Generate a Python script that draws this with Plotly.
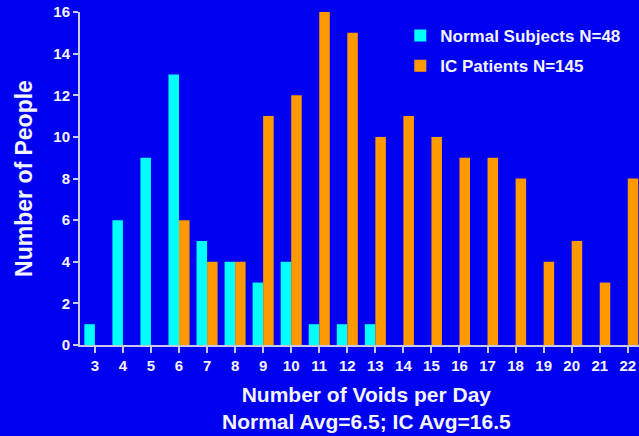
import plotly.graph_objects as go

voids = list(range(3, 23))
normal_counts = [1, 6, 9, 13, 5, 4, 3, 4, 1, 1, 1, 0, 0, 0, 0, 0, 0, 0, 0, 0]
ic_counts = [0, 0, 0, 6, 4, 4, 11, 12, 16, 15, 10, 11, 10, 9, 9, 8, 4, 5, 3, 8]
y_ticks = [0, 2, 4, 6, 8, 10, 12, 14, 16]

BG = "#0000F0"
TEXT = "#F4F4FF"
AXIS = "#C8C8E8"
FONT = "Liberation Sans, Arial, sans-serif"

fig = go.Figure()
fig.add_trace(go.Bar(x=voids, y=normal_counts, name="<b>Normal Subjects N=48</b>",
                     legendgroup="normal",
                     marker=dict(color="#00FFFF", line=dict(width=0))))
fig.add_trace(go.Bar(x=voids, y=ic_counts, name="<b>IC Patients N=145</b>",
                     legendgroup="ic",
                     marker=dict(color="#FF9900", line=dict(width=0))))

fig.update_layout(
    width=639, height=436,
    margin=dict(l=80, r=0, t=12, b=91),
    paper_bgcolor=BG, plot_bgcolor=BG,
    font=dict(family=FONT, color=TEXT),
    barmode="group", bargap=0.25, bargroupgap=0,
    showlegend=True,
    legend=dict(x=0.573, y=0.982, xanchor="left", yanchor="top",
                bgcolor="rgba(0,0,0,0)", font=dict(size=17, color=TEXT),
                traceorder="grouped", itemsizing="constant", tracegroupgap=5),
)
# x-axis title sits slightly right of the plot centre in the original
fig.add_annotation(
    text="<b>Number of Voids per Day<br>Normal Avg=6.5; IC Avg=16.5</b>",
    xref="paper", yref="paper", x=0.513, y=0, xanchor="center", yanchor="top",
    yshift=-36, showarrow=False, font=dict(size=21, color=TEXT),
)
fig.update_xaxes(
    range=[2.47, 22.4], tickmode="array", tickvals=voids,
    ticktext=[f"<b>{v}</b>" for v in voids],
    showgrid=False, zeroline=False, automargin=False,
    showline=True, linecolor=AXIS, linewidth=2,
    ticks="outside", ticklen=6, tickwidth=2, tickcolor=AXIS,
    tickfont=dict(size=15, color=TEXT),
)
fig.update_yaxes(
    range=[0, 16], tickmode="array", tickvals=y_ticks,
    ticktext=[f"<b>{v}</b>" for v in y_ticks],
    showgrid=False, zeroline=False, automargin=False,
    showline=True, linecolor=AXIS, linewidth=2,
    ticks="outside", ticklen=5, tickwidth=2, tickcolor=AXIS,
    tickfont=dict(size=15, color=TEXT),
    title=dict(text="<b>Number of People</b>", font=dict(size=23, color=TEXT), standoff=14),
)

# drop the default 8px page margin so the figure fills the window
fig.write_html("out.html", config={"displayModeBar": False},
               post_script="document.body.style.margin='0';")
